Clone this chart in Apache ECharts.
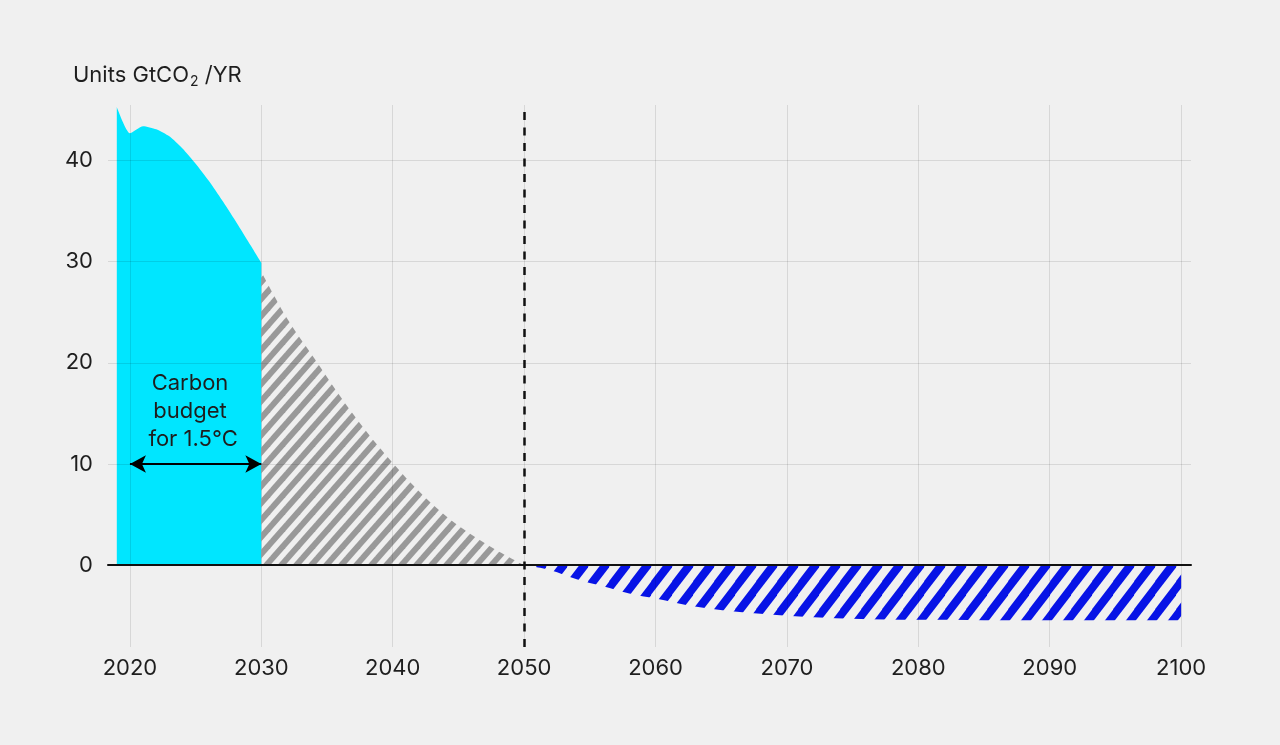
<!DOCTYPE html>
<html><head><meta charset="utf-8">
<script src="https://cdn.jsdelivr.net/npm/echarts@6/dist/echarts.min.js"></script>
<style>html,body{margin:0;padding:0;background:#f0f0f0}#c{width:1280px;height:745px}</style>
</head><body><div id="c"></div>
<script>
// ---- data ----
const xTicks = [2020, 2030, 2040, 2050, 2060, 2070, 2080, 2090, 2100];
const yTicks = [0, 10, 20, 30, 40];
const budgetYears  = [2019, 2020, 2021, 2022, 2023, 2024, 2025, 2026, 2027, 2028, 2029, 2030];
const budgetValues = [45.3, 42.7, 43.4, 43.1, 42.4, 41.2, 39.7, 38.0, 36.1, 34.1, 32.0, 29.9];
const pathYears  = [2030, 2032, 2034, 2036, 2038, 2040, 2042, 2044, 2046, 2048, 2050];
const pathValues = [29.0, 24.3, 20.5, 16.7, 13.2, 10.1, 7.3, 4.9, 3.0, 1.4, 0.0];
const removalYears  = [2050, 2052, 2054, 2056, 2058, 2060, 2063, 2066, 2070, 2075, 2080, 2090, 2100];
const removalValues = [0.0, -0.5, -1.4, -2.1, -2.8, -3.3, -4.1, -4.6, -5.0, -5.3, -5.4, -5.45, -5.45];
const netZeroYear = 2050;
const budgetArrow = { from: 2020, to: 2030, level: 10 };
const budgetLabel = ['Carbon', 'budget', ' for 1.5°C'];
const budgetLabelAt = [2024.57, 15.2];

const zip = (xs, ys) => xs.map((x, i) => [x, ys[i]]);

function stripes(color, P, angle, wH) {
  const a = angle * Math.PI / 180;
  const H = Math.round(P * Math.tan(a));
  const c = document.createElement('canvas');
  c.width = P; c.height = H;
  const g = c.getContext('2d');
  g.strokeStyle = color;
  g.lineWidth = wH * Math.sin(a);
  for (let k = -2; k <= 2; k++) {
    g.beginPath();
    g.moveTo(k * P - P, 2 * H);
    g.lineTo(k * P + 2 * P, -H);
    g.stroke();
  }
  return c;
}

const FONT = 'Inter';
const TXT = '#1e1e1e';
const chart = echarts.init(document.getElementById('c'), null, { renderer: 'canvas' });
chart.setOption({
  backgroundColor: '#f0f0f0',
  animation: false,
  grid: { left: 108, right: 89, top: 105, bottom: 98 },
  graphic: [{
    type: 'text', left: 73, top: 64,
    style: {
      text: 'Units GtCO{sub|2} /YR',
      font: '22px ' + FONT, fill: TXT,
      rich: { sub: { fontSize: 14, fontFamily: FONT, fill: TXT, padding: [14, 0, 0, 1] } }
    }
  }],
  xAxis: {
    type: 'value', min: 2018.33, max: 2100.75, z: 5,
    axisLine: { show: true, onZero: true, lineStyle: { color: '#111', width: 2 } },
    axisTick: { show: false, customValues: xTicks },
    axisLabel: { customValues: xTicks, formatter: v => String(v), margin: 10, fontSize: 22, fontFamily: FONT, color: TXT },
    splitLine: { show: true, lineStyle: { color: 'rgba(0,0,0,0.1)', width: 1 } }
  },
  yAxis: {
    type: 'value', min: -8.1, max: 45.5, z: 5,
    axisLine: { show: false },
    axisTick: { show: false, customValues: yTicks },
    axisLabel: { customValues: yTicks, margin: 15, fontSize: 22, fontFamily: FONT, color: TXT },
    splitLine: { show: true, lineStyle: { color: 'rgba(0,0,0,0.1)', width: 1 } }
  },
  series: [
    {
      type: 'line', data: zip(budgetYears, budgetValues), smooth: 0.2, showSymbol: false,
      lineStyle: { width: 0, opacity: 0 }, areaStyle: { color: '#00E6FF', opacity: 1 }, z: 2,
      markPoint: {
        symbol: 'circle', symbolSize: 0, silent: true,
        data: [{ coord: budgetLabelAt }],
        label: { show: true, formatter: budgetLabel.join('\n'), position: 'inside', align: 'center',
          fontSize: 22, lineHeight: 28, fontFamily: FONT, color: TXT }
      },
      markLine: {
        silent: true, symbol: ['arrow', 'arrow'], symbolSize: [13, 16],
        label: { show: false },
        lineStyle: { color: '#000', width: 2, type: 'solid' },
        data: [[{ coord: [budgetArrow.from, budgetArrow.level] }, { coord: [budgetArrow.to, budgetArrow.level] }]]
      }
    },
    {
      type: 'line', data: zip(pathYears, pathValues), smooth: 0.35, showSymbol: false,
      lineStyle: { width: 0, opacity: 0 },
      areaStyle: { color: { image: stripes('#999999', 15, 48, 8), repeat: 'repeat' }, opacity: 1 }, z: 2,
      markLine: {
        silent: true, symbol: ['none', 'none'], label: { show: false },
        lineStyle: { color: '#111', width: 2.5, type: [8, 7.5] },
        data: [{ xAxis: netZeroYear }]
      }
    },
    {
      type: 'line', data: zip(removalYears, removalValues), smooth: 0.35, showSymbol: false,
      lineStyle: { width: 0, opacity: 0 },
      areaStyle: { color: { image: stripes('#0713E6', 21.5, 52, 10.5), repeat: 'repeat' }, opacity: 1 }, z: 2
    }
  ]
});
</script></body></html>
